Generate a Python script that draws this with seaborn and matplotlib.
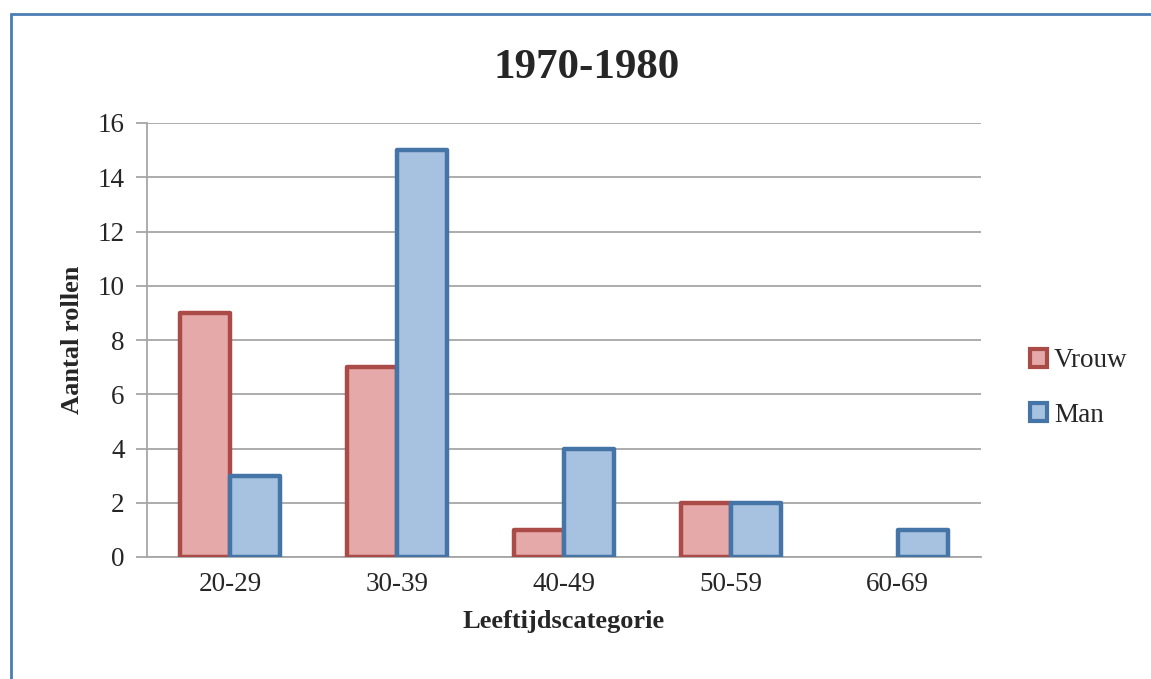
from matplotlib import pyplot as plt
from matplotlib.patches import Patch, Rectangle
import seaborn as sns
import pandas as pd

sns.set_style('white')
plt.rcParams['font.family'] = ['Liberation Serif', 'DejaVu Serif']

categories = ['20-29', '30-39', '40-49', '50-59', '60-69']
vrouw = [9, 7, 1, 2, 0]
man = [3, 15, 4, 2, 1]

df = pd.DataFrame({
    'cat': categories * 2,
    'val': vrouw + man,
    'sex': ['Vrouw'] * len(categories) + ['Man'] * len(categories),
})

face = {'Vrouw': '#e4a9a8', 'Man': '#a7c1e0'}
edge = {'Vrouw': '#aa4b47', 'Man': '#4574a7'}

fig = plt.figure(figsize=(11.51, 6.79), dpi=100)
ax = fig.add_axes([147 / 1151, 1 - 557 / 679, (981 - 147) / 1151, (557 - 123) / 679])

sns.barplot(data=df, x='cat', y='val', hue='sex', palette=face,
            width=0.6, saturation=1, ax=ax, legend=False)

for bar in ax.patches:
    fc = bar.get_facecolor()
    hexfc = '#%02x%02x%02x' % tuple(int(round(c * 255)) for c in fc[:3])
    key = 'Vrouw' if hexfc == face['Vrouw'] else 'Man'
    if bar.get_height() == 0:
        bar.set_visible(False)
        continue
    bar.set_edgecolor(edge[key])
    bar.set_linewidth(3.2)
    bar.set_joinstyle('round')
    bar.set_zorder(3)

grid_c = '#a6a6a6'
ax.set_ylim(0, 16)
ax.set_yticks(range(0, 17, 2))
ax.set_xlim(-0.5, 4.5)
ax.yaxis.grid(True, color=grid_c, linewidth=1.3)
ax.set_axisbelow(True)
for s in ['top', 'right']:
    ax.spines[s].set_visible(False)
for s in ['left', 'bottom']:
    ax.spines[s].set_color(grid_c)
    ax.spines[s].set_linewidth(1.3)

ax.set_xticks([i + 0.5 for i in range(-1, 5)], minor=True)
ax.tick_params(axis='x', which='minor', direction='out', length=8, width=1.3, color=grid_c)
ax.tick_params(axis='x', which='major', length=0, labelsize=19.5, pad=11)
ax.tick_params(axis='y', direction='out', length=8, width=1.3, color=grid_c,
               left=True, labelsize=19.5, pad=8)

ax.set_xlabel('Leeftijdscategorie', fontsize=19, fontweight='bold', labelpad=9)
ax.set_ylabel('Aantal rollen', fontsize=19, fontweight='bold', labelpad=10)
fig.text(587 / 1151, 1 - 68 / 679, '1970-1980', fontsize=31, fontweight='bold',
         ha='center', va='center')

handles = [Patch(facecolor=face[k], edgecolor=edge[k], linewidth=3, label=k)
           for k in ['Vrouw', 'Man']]
fig.legend(handles=handles, loc='center left', bbox_to_anchor=(1016 / 1151, 1 - 388 / 679),
           frameon=False, fontsize=19.5, handlelength=0.65, handleheight=0.65,
           handletextpad=0.25, labelspacing=1.1, borderpad=0)

fig.patches.append(Rectangle((11 / 1151, -0.1), 1.2, 1 - 14 / 679 + 0.1,
                             transform=fig.transFigure, fill=False,
                             edgecolor='#4a7db4', linewidth=2))

plt.savefig('out.png', dpi=100)
